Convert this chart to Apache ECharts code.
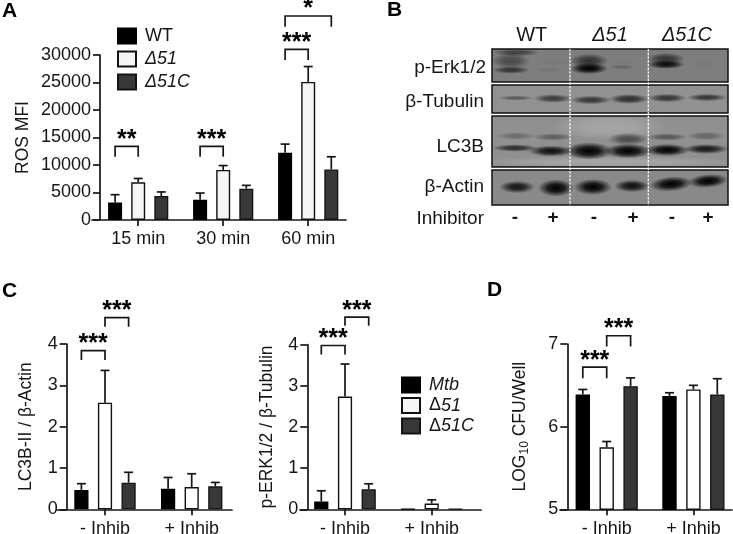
<!DOCTYPE html>
<html><head><meta charset="utf-8">
<script src="https://cdn.jsdelivr.net/npm/echarts@6/dist/echarts.min.js"></script>
<style>html,body{margin:0;padding:0;background:#fff}#c{width:733px;height:534px}</style>
</head><body><div id="c"></div>
<script>
// ---------- data ----------
const timeCats = ['15 min', '30 min', '60 min'];
const inhibCats = ['- Inhib', '+ Inhib'];
const rosTicksMax = 30000;

const rosWT = [3200, 3700, 12250];
const rosWTErr = [4600, 4900, 13800];
const rosD51 = [6850, 9100, 25100];
const rosD51Err = [7550, 9900, 27900];
const rosD51C = [4350, 5700, 9200];
const rosD51CErr = [5100, 6300, 11500];

const lc3Mtb = [0.47, 0.50];
const lc3MtbErr = [0.62, 0.77];
const lc3D51 = [2.58, 0.54];
const lc3D51Err = [3.36, 0.86];
const lc3D51C = [0.645, 0.556];
const lc3D51CErr = [0.895, 0.65];

const erkMtb = [0.19, 0.01];
const erkMtbErr = [0.45, null];
const erkD51 = [2.74, 0.14];
const erkD51Err = [3.53, 0.23];
const erkD51C = [0.49, 0.01];
const erkD51CErr = [0.62, null];

const cfuMtb = [6.39, 6.37];
const cfuMtbErr = [6.45, 6.41];
const cfuD51 = [5.75, 6.45];
const cfuD51Err = [5.82, 6.50];
const cfuD51C = [6.49, 6.39];
const cfuD51CErr = [6.59, 6.58];

// significance brackets: group, first bar, last bar, top value, foot value, stars
const rosBrackets = [[0, 0, 1, 13400, 11500, '**'], [1, 0, 1, 13400, 11500, '***'], [2, 0, 1, 31030, 29090, '***'], [2, 0, 2, 37090, 35150, '*']];
const lc3Brackets = [[0, 0, 1, 3.84, 3.615, '***'], [0, 1, 2, 4.64, 4.42, '***']];
const erkBrackets = [[0, 0, 1, 3.98, 3.76, '***'], [0, 1, 2, 4.67, 4.46, '***']];
const cfuBrackets = [[0, 0, 1, 6.72, 6.585, '***'], [0, 1, 2, 7.10, 6.97, '***']];

// western blot band intensities, lane by lane (0-1)
const erkUpperBand = [0.42, 0.04, 0.6, 0.03, 0.6, 0.02];
const erkLowerBand = [0.6, 0.08, 1, 0.2, 0.9, 0.03];
const tubulinBand = [0.4, 0.6, 0.65, 0.7, 0.65, 0.65];
const lc3UpperBand = [0.25, 0.35, 0.0, 0.5, 0.4, 0.3];
const lc3LowerBand = [0.7, 0.9, 1, 1, 1, 0.85];
const actinBand = [0.85, 1, 1, 0.9, 1, 1];

// ---------- style ----------
const FONT = '"Liberation Sans", Arial, sans-serif';
const INK = '#161616';
const AXW = 1.7;
const BLACK = { color: '#000', borderColor: '#000', borderWidth: 1.4 };
const DARK = { color: '#383838', borderColor: '#141414', borderWidth: 1.4 };
const whiteStyle = c => ({ color: c, borderColor: '#111', borderWidth: 1.4 });

const grids = [], xAxes = [], yAxes = [], series = [];

function addPanel(p) {
  const g = grids.length;
  grids.push({ left: p.x0, width: p.x1 - p.x0, top: p.top, height: p.bottom - p.top, containLabel: false, outerBoundsMode: 'none' });
  const toU = px => (px - p.tick0) / p.spacing;
  xAxes.push({
    gridIndex: g, type: 'value', min: toU(p.x0), max: toU(p.x1),
    splitLine: { show: false },
    axisLine: { show: true, onZero: false, lineStyle: { color: INK, width: AXW } },
    axisTick: { show: true, length: 6, customValues: p.cats.map((_, i) => i), lineStyle: { color: INK, width: AXW } },
    axisLabel: { show: true, customValues: p.cats.map((_, i) => i), formatter: v => p.cats[Math.round(v)], fontFamily: FONT, fontSize: 18, color: INK, margin: 10.5, hideOverlap: false, showMinLabel: true, showMaxLabel: true }
  });
  yAxes.push({
    gridIndex: g, type: 'value', min: p.min, max: p.max, interval: p.interval,
    offset: -(p.axisX - p.x0),
    name: p.name, nameLocation: 'middle', nameGap: p.nameGap, nameRotate: 90,
    nameTextStyle: Object.assign({ fontFamily: FONT, fontSize: p.nameSize || 17.5, color: INK }, p.nameRich ? { rich: p.nameRich } : {}),
    splitLine: { show: false },
    axisLine: { show: true, onZero: false, lineStyle: { color: INK, width: AXW } },
    axisTick: { show: true, length: 7, lineStyle: { color: INK, width: AXW } },
    axisLabel: { fontFamily: FONT, fontSize: 18, color: INK, margin: 9, formatter: v => String(v) }
  });
  const w = p.barWidth;
  p.bars.forEach((b) => {
    series.push({
      type: 'bar', name: b.name, xAxisIndex: g, yAxisIndex: g, barWidth: w, barGap: ((p.pitch - w) / w * 100) + '%',
      itemStyle: b.style, data: b.values.map((v, i) => [i, v]), silent: true, z: 2, animation: false
    });
  });
  p.bars.forEach((b, k) => {
    series.push({
      type: 'custom', name: 'err', coordinateSystem: 'cartesian2d', xAxisIndex: g, yAxisIndex: g, z: 3, silent: true, animation: false, clip: false,
      data: b.values.map((v, i) => [i, v, b.err[i]]).filter(d => d[2] != null),
      encode: { x: 0, y: [1, 2] },
      renderItem: (params, api) => {
        const base = api.coord([api.value(0), api.value(1)]);
        const top = api.coord([api.value(0), api.value(2)]);
        const x = base[0] + (k - 1) * p.pitch;
        const ls = { stroke: '#161616', lineWidth: 1.7, fill: null };
        return { type: 'group', children: [
          { type: 'line', shape: { x1: x, y1: base[1], x2: x, y2: top[1] }, style: ls },
          { type: 'line', shape: { x1: x - 4.5, y1: top[1], x2: x + 4.5, y2: top[1] }, style: ls }
        ] };
      }
    });
  });
  series.push({
    type: 'custom', name: 'sig', coordinateSystem: 'cartesian2d', xAxisIndex: g, yAxisIndex: g, z: 4, silent: true, animation: false, clip: false,
    data: p.brackets.map((b, i) => [b[0], b[3], b[4]]),
    encode: { x: 0, y: [1, 2] },
    renderItem: (params, api) => {
      const b = p.brackets[params.dataIndex];
      const xa = api.coord([b[0], b[3]])[0] + (b[1] - 1) * p.pitch;
      const xb = api.coord([b[0], b[3]])[0] + (b[2] - 1) * p.pitch;
      const yt = api.coord([b[0], b[3]])[1];
      const yf = api.coord([b[0], b[4]])[1];
      return { type: 'group', children: [
        { type: 'polyline', shape: { points: [[xa, yf], [xa, yt], [xb, yt], [xb, yf]] }, style: { stroke: '#161616', lineWidth: 1.7, fill: null } },
        { type: 'text', style: { x: (xa + xb) / 2, y: yt - 6.5, text: b[5], align: 'center', verticalAlign: 'middle', fill: '#000', font: 'bold 25px ' + FONT } }
      ] };
    }
  });
}

addPanel({
  cats: timeCats, x0: 92, x1: 346, axisX: 100, top: 55, bottom: 220, tick0: 138.2, spacing: 85, pitch: 23.1, barWidth: 14,
  min: 0, max: rosTicksMax, interval: 5000, name: 'ROS MFI', nameGap: 68,
  bars: [
    { name: 'WT', values: rosWT, err: rosWTErr, style: BLACK },
    { name: 'Δ51', values: rosD51, err: rosD51Err, style: whiteStyle('#f5f5f5') },
    { name: 'Δ51C', values: rosD51C, err: rosD51CErr, style: DARK }
  ], brackets: rosBrackets
});
addPanel({
  cats: inhibCats, x0: 57, x1: 232, axisX: 66.7, top: 344, bottom: 509.3, tick0: 105, spacing: 86.7, pitch: 23.6, barWidth: 14.2,
  min: 0, max: 4, interval: 1, name: 'LC3B-II / β-Actin', nameGap: 32,
  bars: [
    { name: 'Mtb', values: lc3Mtb, err: lc3MtbErr, style: BLACK },
    { name: 'Δ51', values: lc3D51, err: lc3D51Err, style: whiteStyle('#fff') },
    { name: 'Δ51C', values: lc3D51C, err: lc3D51CErr, style: DARK }
  ], brackets: lc3Brackets
});
addPanel({
  cats: inhibCats, x0: 300, x1: 481, axisX: 307.3, top: 344.7, bottom: 509.3, tick0: 345, spacing: 86.7, pitch: 23.7, barWidth: 14.2,
  min: 0, max: 4, interval: 1, name: 'p-ERK1/2 / β-Tubulin', nameGap: 31,
  bars: [
    { name: 'Mtb', values: erkMtb, err: erkMtbErr, style: BLACK },
    { name: 'Δ51', values: erkD51, err: erkD51Err, style: whiteStyle('#fff') },
    { name: 'Δ51C', values: erkD51C, err: erkD51CErr, style: DARK }
  ], brackets: erkBrackets
});
addPanel({
  cats: inhibCats, x0: 560, x1: 732, axisX: 567.3, top: 344, bottom: 509.3, tick0: 606.7, spacing: 86.7, pitch: 23.9, barWidth: 14.4,
  min: 5, max: 7, interval: 1, name: '{a|LOG}{s|10}{a| CFU/Well}', nameGap: 37,
  nameRich: { a: { fontFamily: FONT, fontSize: 17.5, color: INK }, s: { fontFamily: FONT, fontSize: 12, color: INK, verticalAlign: 'bottom', padding: [8, 0, 0, 0] } },
  bars: [
    { name: 'Mtb', values: cfuMtb, err: cfuMtbErr, style: BLACK },
    { name: 'Δ51', values: cfuD51, err: cfuD51Err, style: whiteStyle('#fff') },
    { name: 'Δ51C', values: cfuD51C, err: cfuD51CErr, style: DARK }
  ], brackets: cfuBrackets
});

// ---------- blot panel (raster picture in the reference, painted as soft shapes) ----------
const graphic = [];
function txt(x, y, text, o) {
  graphic.push({ type: 'text', x, y, silent: true, z: 20, style: Object.assign({ text, fill: INK, font: '19px ' + FONT, align: 'center', verticalAlign: 'middle' }, o || {}) });
}
function blob(cx, cy, w0, h0, a, rgb, rot) {
  const c = rgb || '0,0,0';
  const w = w0 * 1.2, h = h0 * 1.25;
  graphic.push({
    type: 'circle', x: cx, y: cy, scaleX: w / 20, scaleY: h / 20, rotation: rot || 0, silent: true, z: 11,
    shape: { cx: 0, cy: 0, r: 10 },
    style: { fill: { type: 'radial', x: 0.5, y: 0.5, r: 0.5, colorStops: [
      { offset: 0, color: `rgba(${c},${a})` }, { offset: 0.45, color: `rgba(${c},${a * 0.8})` }, { offset: 1, color: `rgba(${c},0)` }
    ] } }
  });
}
const BX0 = 492, BX1 = 728;
[[49, 82, '#7e7e7e'], [85, 113, '#919191'], [116, 167, '#909090'], [170, 205, '#898989']].forEach(r => {
  graphic.push({ type: 'rect', silent: true, z: 10, shape: { x: BX0, y: r[0], width: BX1 - BX0, height: r[1] - r[0] }, style: { fill: r[2], stroke: 'none' } });
});
// p-Erk
blob(516, 52.5, 40, 6, 0.5);
const erkUpPos = [[511, 61, 32, 13], [553, 62, 28, 8], [589, 61, 32, 12], [622, 62, 26, 6], [666, 59, 32, 10], [706, 62, 26, 6]];
const erkLoPos = [[511, 70, 32, 6], [548, 70, 24, 4], [589, 68.5, 32, 9], [622, 67, 22, 4], [666, 64.5, 32, 7], [706, 66, 24, 4]];
erkUpPos.forEach((p, i) => blob(p[0], p[1], p[2], p[3], erkUpperBand[i]));
erkLoPos.forEach((p, i) => blob(p[0], p[1], p[2], p[3], erkLowerBand[i]));
// Tubulin
const tubPos = [[516, 98, 30, 4], [553, 98.5, 33, 7], [591, 100, 35, 7], [629, 99, 34, 8], [667, 98, 33, 7], [707, 97.5, 34, 6]];
tubPos.forEach((p, i) => blob(p[0], p[1], p[2], p[3], tubulinBand[i]));
// LC3B
blob(610, 127, 100, 22, 0.2, '255,255,255');
blob(610, 162, 230, 10, 0.2, '255,255,255');
const lcUpPos = [[516, 136, 34, 6], [553, 137, 34, 6], [591, 137, 26, 5], [628, 139, 34, 10], [667, 137, 34, 6], [706, 136, 32, 7]];
const lcLoPos = [[515, 148, 38, 6], [551, 151, 38, 9], [589, 151, 40, 14], [628, 151, 40, 12], [667, 150, 38, 10], [706, 149, 38, 8]];
lcUpPos.forEach((p, i) => blob(p[0], p[1], p[2], p[3], lc3UpperBand[i]));
lcLoPos.forEach((p, i) => blob(p[0], p[1], p[2], p[3], lc3LowerBand[i]));
// Actin
const actPos = [[517, 187, 30, 10], [556, 188, 30, 14], [593, 187, 32, 13], [632, 186, 30, 10], [671, 184, 36, 12], [708, 181, 34, 11]];
actPos.forEach((p, i) => blob(p[0], p[1], p[2], p[3], actinBand[i], null, i > 3 ? 0.08 : 0));
[[49, 82], [85, 113], [116, 167], [170, 205]].forEach(r => {
  graphic.push({ type: 'rect', silent: true, z: 12, shape: { x: BX0, y: r[0], width: BX1 - BX0, height: r[1] - r[0] }, style: { fill: 'none', stroke: '#111', lineWidth: 1.5 } });
});
[570, 648.3].forEach(x => graphic.push({ type: 'line', silent: true, z: 13, shape: { x1: x, y1: 49, x2: x, y2: 205 }, style: { stroke: '#fff', lineWidth: 1.2, lineDash: [2.5, 1.2] } }));

txt(531.7, 35, 'WT', { font: '20px ' + FONT });
txt(610, 35, 'Δ51', { font: 'italic 20px ' + FONT });
txt(687, 35, 'Δ51C', { font: 'italic 20px ' + FONT });
txt(486, 68, 'p-Erk1/2', { align: 'right' });
txt(484, 102, 'β-Tubulin', { align: 'right' });
txt(484, 147, 'LC3B', { align: 'right' });
txt(484, 187, 'β-Actin', { align: 'right' });
txt(484, 219, 'Inhibitor', { align: 'right' });
[515, 553, 594, 633, 672, 708].forEach((x, i) => txt(x, 218, i % 2 ? '+' : '-', { font: 'bold 19px ' + FONT }));

// panel letters
txt(2, 11.5, 'A', { align: 'left', font: 'bold 21px ' + FONT, fill: '#000' });
txt(387, 10.5, 'B', { align: 'left', font: 'bold 21px ' + FONT, fill: '#000' });
txt(2, 291.5, 'C', { align: 'left', font: 'bold 21px ' + FONT, fill: '#000' });
txt(487, 290.5, 'D', { align: 'left', font: 'bold 21px ' + FONT, fill: '#000' });

const legRich = { n: { fontFamily: FONT, fontSize: 18, color: INK }, i: { fontFamily: FONT, fontSize: 18, color: INK, fontStyle: 'italic' } };
const option = {
  animation: false, backgroundColor: '#fff',
  grid: grids, xAxis: xAxes, yAxis: yAxes, series, graphic: { elements: graphic },
  legend: [
    { left: 117, top: 27, orient: 'vertical', itemWidth: 18, itemHeight: 15, itemGap: 5, icon: 'rect', selectedMode: false, padding: 0,
      data: ['WT', 'Δ51', 'Δ51C'],
      formatter: n => n === 'WT' ? '{n|WT}' : '{i|' + n + '}',
      textStyle: { rich: legRich, fontFamily: FONT, fontSize: 18, padding: [0, 0, 0, 4] } },
    { left: 401, top: 376, orient: 'vertical', itemWidth: 18, itemHeight: 15, itemGap: 2.5, icon: 'rect', selectedMode: false, padding: 0,
      data: ['Mtb', 'Δ51', 'Δ51C'],
      formatter: n => n === 'Mtb' ? '{i|Mtb}' : '{n|Δ}{i|' + n.slice(1) + '}',
      textStyle: { rich: legRich, fontFamily: FONT, fontSize: 18, padding: [0, 0, 0, 4] } }
  ]
};
const chart = echarts.init(document.getElementById('c'), null, { renderer: 'canvas' });
chart.setOption(option);
</script></body></html>
